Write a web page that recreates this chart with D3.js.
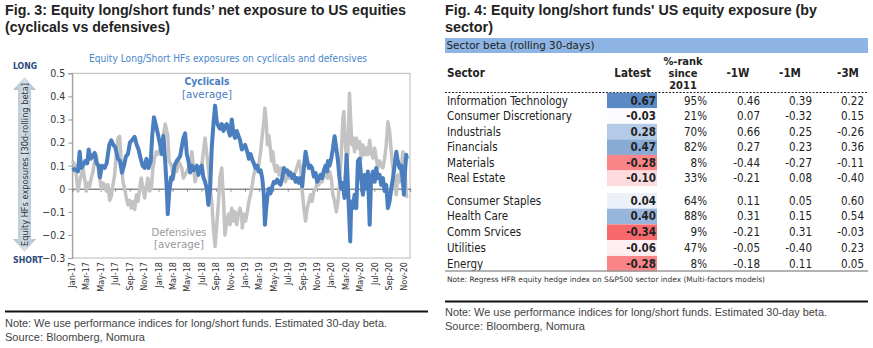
<!DOCTYPE html>
<html>
<head>
<meta charset="utf-8">
<script src="https://cdn.jsdelivr.net/npm/d3@7"></script>
<style>
  body { margin: 0; background: #fff; }
</style>
</head>
<body>
<svg id="fig" width="873" height="348"></svg>
<script>
// ---- data (month offset since Jan-2017, beta) ----
var cyclicals = [
  [0,0.08],[0.32,0.085],[0.79,0.075],[1.02,0.16],[1.25,0.09],[1.48,0.10],[1.8,0.12],[2.08,0.11],[2.27,0.17],[2.55,0.13],
  [2.82,0.14],[3.1,0.155],[3.38,0.11],[3.66,0.10],[3.84,0.05],[4.12,0.10],[4.5,0.09],[4.77,0.11],[5.14,0.19],[5.42,0.21],
  [5.69,0.19],[5.97,0.18],[6.34,0.13],[6.62,0.12],[6.9,0.07],[7.18,0.10],[7.45,0.14],[7.73,0.15],[8.0,0.20],[8.29,0.21],
  [8.66,0.225],[8.94,0.19],[9.2,0.17],[9.5,0.13],[9.77,0.10],[10.05,0.09],[10.3,0.13],[10.6,0.09],[10.9,0.12],[11.1,0.23],
  [11.34,0.31],[11.5,0.29],[11.87,0.24],[12.2,0.19],[12.43,0.15],[12.66,0.23],[12.9,0.12],[13.12,0.0],[13.26,-0.11],[13.44,-0.02],
  [13.72,0.05],[13.9,0.04],[14.2,0.10],[14.5,0.12],[14.97,0.14],[15.43,0.22],[15.67,0.24],[15.9,0.15],[16.13,0.12],[16.36,0.07],
  [16.6,0.10],[16.82,0.08],[17.05,0.09],[17.29,0.10],[17.52,0.06],[17.75,0.09],[17.98,0.10],[18.2,0.05],[18.44,0.03],[18.68,0.0],
  [18.9,-0.07],[19.14,0.0],[19.37,0.18],[19.6,0.28],[19.83,0.36],[20.06,0.29],[20.3,0.27],[20.5,0.26],[20.76,0.28],[21.0,0.25],
  [21.2,0.27],[21.45,0.28],[21.7,0.25],[21.9,0.23],[22.15,0.30],[22.38,0.24],[22.6,0.22],[22.84,0.25],[23.07,0.23],[23.3,0.21],
  [23.54,0.17],[23.8,0.18],[24.0,0.19],[24.3,0.16],[24.53,0.13],[24.76,0.15],[25.0,0.125],[25.2,0.11],[25.45,0.09],[25.68,0.10],
  [25.9,0.075],[26.15,0.08],[26.38,0.046],[26.6,-0.026],[26.75,-0.156],[26.93,-0.084],[27.1,-0.033],[27.3,0.0],[27.54,-0.02],[27.77,0.01],
  [28.0,0.03],[28.23,0.025],[28.46,0.04],[28.7,0.025],[28.92,0.017],[29.15,0.046],[29.4,0.09],[29.6,0.075],[29.85,0.08],[30.08,0.06],
  [30.3,0.068],[30.54,0.046],[30.78,0.06],[31.0,0.03],[31.24,0.046],[31.47,0.025],[31.7,0.046],[31.93,0.01],[32.16,0.09],[32.4,0.16],
  [32.63,0.12],[32.86,0.09],[33.1,0.10],[33.3,0.09],[33.55,0.053],[33.8,0.068],[34.0,0.03],[34.25,0.046],[34.48,0.06],[34.7,0.046],
  [34.94,0.08],[35.17,0.10],[35.4,0.075],[35.5,0.12],[35.73,0.10],[35.96,0.13],[36.2,0.175],[36.43,0.227],[36.66,0.175],[36.9,0.12],
  [37.1,0.046],[37.35,0.0],[37.58,0.025],[37.8,-0.04],[38.1,0.147],[38.37,-0.055],[38.6,-0.228],[38.74,-0.055],[38.97,-0.084],[39.2,-0.026],
  [39.44,-0.084],[39.67,0.12],[39.9,0.13],[40.13,0.046],[40.36,-0.026],[40.6,0.06],[40.82,0.0],[41.05,0.075],[41.3,-0.156],[41.5,0.046],
  [41.75,0.075],[42.0,0.03],[42.2,0.09],[42.44,0.046],[42.68,0.06],[42.9,0.017],[43.14,0.046],[43.37,-0.01],[43.6,0.017],[43.83,-0.084],
  [44.06,-0.055],[44.3,0.0],[44.53,0.046],[44.76,0.10],[45.0,0.16],[45.2,0.12],[45.45,0.09],[45.68,0.10],[45.9,0.03],[46.06,-0.026],
  [46.24,0.09],[46.38,0.147],[46.47,0.13]
];

var defensives = [
  [0,0.12],[0.32,0.105],[0.56,0.06],[0.79,-0.01],[1.02,0.03],[1.25,0.06],[1.48,0.09],[1.71,0.045],[1.94,-0.01],[2.18,0.025],
  [2.4,0.01],[2.64,0.046],[2.87,0.075],[3.1,0.12],[3.33,0.147],[3.56,0.097],[3.8,0.046],[4.03,0.0],[4.26,0.025],[4.5,0.017],
  [4.72,-0.01],[4.95,0.017],[5.19,-0.05],[5.42,-0.033],[5.65,0.017],[5.88,0.06],[6.1,0.147],[6.34,0.22],[6.57,0.227],[6.8,0.12],
  [7.04,0.03],[7.27,0.0],[7.5,-0.04],[7.73,-0.07],[7.96,-0.05],[8.2,-0.084],[8.43,-0.055],[8.66,-0.09],[8.9,-0.026],[9.12,-0.055],
  [9.35,0.0],[9.58,0.046],[9.8,0.0],[10.05,-0.04],[10.28,0.01],[10.5,0.046],[10.74,-0.01],[10.97,0.0],[11.2,0.09],[11.43,0.133],
  [11.67,0.16],[11.96,0.15],[12.43,0.19],[12.9,0.28],[13.26,0.23],[13.44,0.12],[13.8,0.10],[14.05,0.046],[14.28,0.09],[14.5,0.075],
  [14.74,0.12],[15.2,0.09],[15.43,0.046],[15.9,0.075],[16.36,0.10],[16.6,0.16],[16.82,0.10],[17.05,0.03],[17.52,0.09],[17.98,0.10],
  [18.2,0.16],[18.44,0.22],[18.68,0.15],[18.9,0.09],[19.14,0.0],[19.37,-0.055],[19.6,-0.17],[19.83,-0.25],[20.06,-0.156],[20.3,-0.06],
  [20.5,0.05],[20.76,0.09],[21.0,-0.05],[21.2,-0.2],[21.45,-0.14],[21.7,-0.11],[21.9,-0.156],[22.15,-0.084],[22.38,-0.14],[22.6,-0.10],
  [22.84,-0.156],[23.07,-0.11],[23.3,-0.084],[23.54,-0.12],[23.6,-0.17],[23.83,-0.11],[24.06,-0.14],[24.3,-0.10],[24.53,-0.055],[24.76,-0.026],
  [25.0,0.017],[25.2,0.06],[25.45,0.09],[25.68,0.075],[25.9,0.10],[26.15,0.16],[26.38,0.23],[26.6,0.29],[26.75,0.35],[26.93,0.29],
  [27.1,0.19],[27.3,0.23],[27.5,0.176],[27.67,0.12],[27.86,0.16],[28.04,0.10],[28.23,0.075],[28.46,0.10],[28.7,0.06],[28.92,0.09],
  [29.15,0.046],[29.4,0.075],[29.6,0.03],[29.85,0.06],[30.08,0.046],[30.3,0.075],[30.54,0.046],[30.78,0.06],[31.0,0.075],[31.24,0.097],
  [31.47,0.12],[31.7,0.09],[31.93,-0.01],[32.16,-0.084],[32.4,-0.14],[32.63,-0.084],[32.86,-0.055],[33.1,-0.026],[33.3,-0.055],[33.55,-0.01],
  [33.8,0.0],[34.0,0.03],[34.25,0.017],[34.48,0.046],[34.7,0.03],[34.94,0.06],[35.17,0.075],[35.4,0.046],[35.5,0.046],[35.73,0.075],
  [35.96,0.046],[36.2,-0.026],[36.43,-0.055],[36.66,-0.10],[36.9,-0.055],[37.1,0.017],[37.35,0.147],[37.58,0.306],[37.72,0.335],[37.9,0.205],
  [38.1,0.12],[38.28,0.16],[38.5,0.414],[38.65,0.306],[38.83,0.19],[39.0,0.22],[39.2,0.16],[39.44,0.22],[39.67,0.176],[39.9,0.205],
  [40.13,0.133],[40.36,0.19],[40.6,0.147],[40.82,0.176],[41.05,0.147],[41.3,0.21],[41.5,0.16],[41.75,0.133],[42.0,0.176],[42.2,0.133],
  [42.44,0.09],[42.68,0.12],[42.9,0.10],[43.14,0.09],[43.37,0.13],[43.6,0.19],[43.83,0.29],[44.06,0.25],[44.3,0.16],[44.53,0.09],
  [44.76,0.03],[45.0,-0.026],[45.2,0.06],[45.45,0.03],[45.68,0.09],[45.9,0.16],[46.1,0.147],[46.38,-0.026],[46.47,-0.04]
];

var yTicks = [0.5, 0.4, 0.3, 0.2, 0.1, 0, -0.1, -0.2, -0.3];

// table data (Fig. 4)
var sectors = ["Information Technology", "Consumer Discretionary", "Industrials", "Financials", "Materials", "Real Estate",
               "Consumer Staples", "Health Care", "Comm Srvices", "Utilities", "Energy"];
var latest  = [0.67, -0.03, 0.28, 0.47, -0.28, -0.10, 0.04, 0.40, -0.34, -0.06, -0.28];
var pctRank = [95, 21, 70, 82, 8, 33, 64, 88, 9, 47, 8];
var chg1W   = [0.46, 0.07, 0.66, 0.27, -0.44, -0.21, 0.11, 0.31, -0.21, -0.05, -0.18];
var chg1M   = [0.39, -0.32, 0.25, 0.23, -0.27, 0.08, 0.05, 0.15, 0.31, -0.40, 0.11];
var chg3M   = [0.22, 0.15, -0.26, 0.36, -0.11, -0.40, 0.60, 0.54, -0.03, 0.23, 0.05];

var svg = d3.select("#fig");
var arial = "'Liberation Sans', Arial, sans-serif";
var tahoma = "'DejaVu Sans Condensed', 'DejaVu Sans', sans-serif";

// helper for plain text
function txt(x, y, s, size, opt) {
  opt = opt || {};
  var t = svg.append("text")
    .attr("x", x).attr("y", y)
    .attr("font-family", opt.family || tahoma)
    .attr("font-size", size)
    .attr("font-weight", opt.weight || "normal")
    .attr("fill", opt.fill || "#222")
    .attr("text-anchor", opt.anchor || "start")
    .attr("dy", "0.35em")
    .text(s);
  if (opt.len) t.attr("textLength", opt.len).attr("lengthAdjust", "spacingAndGlyphs");
  if (opt.rotate) t.attr("transform", "rotate(-90," + x + "," + y + ")");
  return t;
}

// ================= Fig. 3 =================
txt(5, 10, "Fig. 3: Equity long/short funds\u2019 net exposure to US equities", 14.5, {family: arial, weight: "bold", len: 401});
txt(5, 27, "(cyclicals vs defensives)", 14.5, {family: arial, weight: "bold", len: 165});

txt(228, 58, "Equity Long/Short HFs exposures on cyclicals and defensives", 10.5, {fill: "#4a87cc", anchor: "middle", len: 278});

var start = new Date(2017, 0, 1);
function toDate(m) { return new Date(start.getTime() + m * 30.44 * 864e5); }

var x = d3.scaleTime().domain([start, toDate(46.9)]).range([72.3, 410]);
var y = d3.scaleLinear().domain([-0.3, 0.5]).range([258, 73.3]);

// plot frame
svg.append("rect")
  .attr("x", x.range()[0]).attr("y", y(0.5))
  .attr("width", x.range()[1] - x.range()[0]).attr("height", y(-0.3) - y(0.5))
  .attr("fill", "none").attr("stroke", "#b8b8b8").attr("stroke-width", 1);

// y axis
var yAxis = svg.append("g")
  .attr("transform", "translate(" + x.range()[0] + ",0)")
  .call(d3.axisLeft(y).tickValues(yTicks).tickSize(4)
    .tickFormat(function(d) { return d === 0 ? "0" : d3.format(".1f")(d); }));
yAxis.select(".domain").attr("stroke", "#999");
yAxis.selectAll(".tick line").attr("stroke", "#999");
yAxis.selectAll("text").attr("font-family", tahoma).attr("font-size", 10.5).attr("fill", "#333").attr("x", -7);

// zero line with month ticks
var xAxis = svg.append("g")
  .attr("transform", "translate(0," + y(0) + ")")
  .call(d3.axisBottom(x).ticks(d3.timeMonth.every(2)).tickSize(3).tickFormat(""));
xAxis.select(".domain").attr("stroke", "#8c8c8c").attr("stroke-width", 1.5);
xAxis.selectAll(".tick line").attr("stroke", "#8c8c8c");

// month labels at the bottom
var months = x.ticks(d3.timeMonth.every(2));
svg.append("g").selectAll("text")
  .data(months)
  .enter().append("text")
    .attr("transform", function(d) { return "translate(" + x(d) + ",262) rotate(-90)"; })
    .attr("text-anchor", "end")
    .attr("dy", "0.35em")
    .attr("font-family", tahoma)
    .attr("font-size", 9)
    .attr("fill", "#333")
    .text(d3.timeFormat("%b-%y"));

var line = d3.line()
  .x(function(d) { return x(toDate(d[0])); })
  .y(function(d) { return y(d[1]); });

svg.append("path").datum(defensives)
  .attr("d", line).attr("fill", "none")
  .attr("stroke", "#c3c3c3").attr("stroke-width", 3.5).attr("stroke-linejoin", "round");
svg.append("path").datum(cyclicals)
  .attr("d", line).attr("fill", "none")
  .attr("stroke", "#4a7ebf").attr("stroke-width", 4).attr("stroke-linejoin", "round");

// series annotations
txt(207, 81.5, "Cyclicals", 11, {fill: "#4a7ebf", anchor: "middle", weight: "bold", len: 45});
txt(207, 94, "[average]", 11, {fill: "#4a7ebf", anchor: "middle", len: 50});
txt(179, 232.5, "Defensives", 11, {fill: "#9a9a9a", anchor: "middle", len: 55});
txt(179, 244.5, "[average]", 11, {fill: "#9a9a9a", anchor: "middle", len: 50});

// long / short arrow
var grad = svg.append("defs").append("linearGradient").attr("id", "arrowFill");
grad.append("stop").attr("offset", "0%").attr("stop-color", "#a9bccf");
grad.append("stop").attr("offset", "50%").attr("stop-color", "#d6e0ea");
grad.append("stop").attr("offset", "100%").attr("stop-color", "#a9bccf");
var ax = 24.5;
svg.append("path")
  .attr("d", "M" + ax + ",77 L" + (ax + 11.5) + ",90 L" + (ax + 6.5) + ",90 L" + (ax + 6.5) + ",239 L" + (ax + 11.5) + ",239 L" + ax + ",252 L" +
        (ax - 11.5) + ",239 L" + (ax - 6.5) + ",239 L" + (ax - 6.5) + ",90 L" + (ax - 11.5) + ",90 Z")
  .attr("fill", "url(#arrowFill)");
txt(ax + 0.5, 164.5, "Equity HFs exposures [30d-rolling beta]", 9.5, {anchor: "middle", rotate: true, fill: "#333", len: 163});
txt(25, 66, "LONG", 8, {anchor: "middle", weight: "bold", fill: "#2b4a7a", len: 24});
txt(28, 260.5, "SHORT", 8, {anchor: "middle", weight: "bold", fill: "#2b4a7a", len: 30});

// footer
svg.append("line").attr("x1", 5).attr("x2", 428).attr("y1", 311.5).attr("y2", 311.5)
  .attr("stroke", "#111").attr("stroke-width", 2);
txt(5, 323.5, "Note: We use performance indices for long/short funds. Estimated 30-day beta.", 11, {family: arial, fill: "#444", len: 382});
txt(5, 337.5, "Source: Bloomberg, Nomura", 11, {family: arial, fill: "#444", len: 140});

// ================= Fig. 4 =================
txt(445, 10, "Fig. 4: Equity long/short funds' US equity exposure (by", 14.5, {family: arial, weight: "bold", len: 372});
txt(445, 27, "sector)", 14.5, {family: arial, weight: "bold", len: 48});

svg.append("rect").attr("x", 445).attr("y", 38).attr("width", 423).attr("height", 15).attr("fill", "#8db4e2");
txt(446.5, 45.5, "Sector beta (rolling 30-days)", 11, {len: 148});

// header
txt(447, 73, "Sector", 11.5, {weight: "bold"});
txt(651, 73, "Latest", 11.5, {weight: "bold", anchor: "end"});
txt(683, 61, "%-rank", 11, {weight: "bold", anchor: "middle"});
txt(683, 73, "since", 11, {weight: "bold", anchor: "middle"});
txt(683, 85, "2011", 11, {weight: "bold", anchor: "middle"});
txt(738, 73, "-1W", 11.5, {weight: "bold", anchor: "middle"});
txt(790, 73, "-1M", 11.5, {weight: "bold", anchor: "middle"});
txt(848, 73, "-3M", 11.5, {weight: "bold", anchor: "middle"});
svg.append("line").attr("x1", 445).attr("x2", 868).attr("y1", 92.5).attr("y2", 92.5)
  .attr("stroke", "#222").attr("stroke-width", 1).attr("stroke-dasharray", "2,1.5");

var heat = d3.scaleLinear().domain([-0.34, -0.03, 0.67]).range(["#f8696b", "#fcfcff", "#5a8ac6"]);
var rowY = function(i) { return i < 6 ? 100.5 + i * 15.55 : 200.7 + (i - 6) * 15.75; };
var f2 = d3.format(".2f");
var minus = function(v) { return f2(v).replace("\u2212", "-"); };

sectors.forEach(function(s, i) {
  var cy = rowY(i);
  svg.append("rect").attr("x", 607).attr("y", cy - 7.8).attr("width", 50).attr("height", 15.6)
    .attr("fill", heat(latest[i]));
  txt(447, cy, s, 11.5);
  txt(656, cy, minus(latest[i]), 11.5, {weight: "bold", anchor: "end"});
  txt(707, cy, pctRank[i] + "%", 11.5, {anchor: "end"});
  txt(760, cy, minus(chg1W[i]), 11.5, {anchor: "end"});
  txt(812, cy, minus(chg1M[i]), 11.5, {anchor: "end"});
  txt(864, cy, minus(chg3M[i]), 11.5, {anchor: "end"});
});

svg.append("line").attr("x1", 445).attr("x2", 868).attr("y1", 271).attr("y2", 271)
  .attr("stroke", "#9a9a9a").attr("stroke-width", 1.5);
txt(447, 279.5, "Note: Regress HFR equity hedge index on S&P500 sector index (Multi-factors models)", 7.5, {fill: "#333", len: 318});

svg.append("line").attr("x1", 445).attr("x2", 868).attr("y1", 301.5).attr("y2", 301.5)
  .attr("stroke", "#111").attr("stroke-width", 2);
txt(445, 312.5, "Note: We use performance indices for long/short funds. Estimated 30-day beta.", 11, {family: arial, fill: "#444", len: 382});
txt(445, 326.5, "Source: Bloomberg, Nomura", 11, {family: arial, fill: "#444", len: 140});
</script>
</body>
</html>
